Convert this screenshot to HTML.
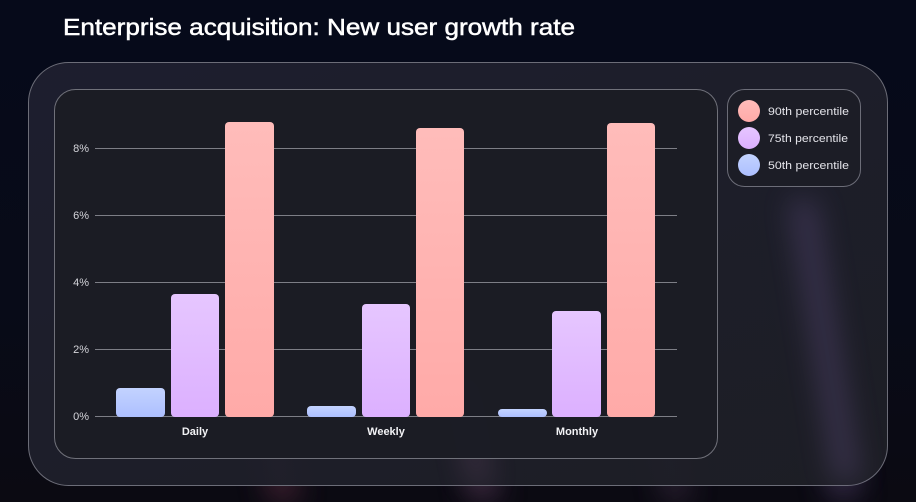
<!DOCTYPE html>
<html><head><meta charset="utf-8"><style>
html,body{margin:0;padding:0;width:916px;height:502px;overflow:hidden;background:#070b18;}
svg{display:block}
</style></head><body>
<svg width="916" height="502" viewBox="0 0 916 502" xmlns="http://www.w3.org/2000/svg">
<defs>
<linearGradient id="bg" x1="0" y1="0" x2="0" y2="1">
<stop offset="0" stop-color="#060a1a"/><stop offset="0.6" stop-color="#080b18"/><stop offset="1" stop-color="#0b0a12"/>
</linearGradient>
<linearGradient id="outer" x1="0" y1="0" x2="1" y2="1">
<stop offset="0" stop-color="#1f2030"/><stop offset="1" stop-color="#1e1f26"/>
</linearGradient>
<linearGradient id="gr" x1="0" y1="0" x2="0" y2="1"><stop offset="0" stop-color="#ffbcba"/><stop offset="1" stop-color="#ffaaa8"/></linearGradient>
<linearGradient id="gp" x1="0" y1="0" x2="0" y2="1"><stop offset="0" stop-color="#e6c6ff"/><stop offset="1" stop-color="#dcb0ff"/></linearGradient>
<linearGradient id="gb" x1="0" y1="0" x2="0" y2="1"><stop offset="0" stop-color="#c3d3ff"/><stop offset="1" stop-color="#adbfff"/></linearGradient>
<filter id="blur" x="-50%" y="-50%" width="200%" height="200%"><feGaussianBlur stdDeviation="14"/></filter>
</defs>
<rect width="916" height="502" fill="url(#bg)"/>
<g filter="url(#blur)" opacity="0.55">
<polygon points="250,380 275,380 300,502 270,502" fill="#6b3048"/>
<polygon points="440,300 470,300 500,502 470,502" fill="#5a3a5a"/>
<polygon points="780,200 810,200 860,502 830,502" fill="#4a3a5e"/>
<polygon points="640,330 660,330 690,502 665,502" fill="#4a3550"/>
</g>
<rect x="28.5" y="62.5" width="859" height="423" rx="40" fill="url(#outer)" fill-opacity="0.93" stroke="#6c6d78" stroke-width="1"/>
<g filter="url(#blur)" opacity="0.35">
<polygon points="790,200 815,200 860,480 835,480" fill="#6a5590"/>
<polygon points="450,380 470,380 490,485 470,485" fill="#6a4a6a"/>
</g>
<rect x="54.5" y="89.5" width="663" height="369" rx="21" fill="#1b1c24" fill-opacity="0.96" stroke="#70717a" stroke-width="1"/>
<rect x="727.5" y="89.5" width="133" height="97" rx="17" fill="#1c1d26" stroke="#6c6d78" stroke-width="1"/>
<text x="63" y="35" font-family="Liberation Sans, sans-serif" font-size="23.5" fill="#ffffff" stroke="#ffffff" stroke-width="0.5" textLength="512" lengthAdjust="spacingAndGlyphs">Enterprise acquisition: New user growth rate</text>
<g stroke="#7d7e86" stroke-width="1">
<line x1="95" y1="148.5" x2="677" y2="148.5"/>
<line x1="95" y1="215.5" x2="677" y2="215.5"/>
<line x1="95" y1="282.5" x2="677" y2="282.5"/>
<line x1="95" y1="349.5" x2="677" y2="349.5"/>
<line x1="95" y1="416.5" x2="677" y2="416.5"/>
</g>
<g font-family="Liberation Sans, sans-serif" font-size="11" fill="#d4d4da" text-anchor="end">
<text x="89" y="152">8%</text>
<text x="89" y="219">6%</text>
<text x="89" y="286">4%</text>
<text x="89" y="353">2%</text>
<text x="89" y="420">0%</text>
</g>
<g>
<rect x="116" y="388" width="49" height="29" rx="4" fill="url(#gb)"/>
<rect x="171" y="294" width="48" height="123" rx="4" fill="url(#gp)"/>
<rect x="225" y="122" width="49" height="295" rx="4" fill="url(#gr)"/>
<rect x="307" y="406" width="49" height="11" rx="4" fill="url(#gb)"/>
<rect x="362" y="304" width="48" height="113" rx="4" fill="url(#gp)"/>
<rect x="416" y="128" width="48" height="289" rx="4" fill="url(#gr)"/>
<rect x="498" y="409" width="49" height="8" rx="4" fill="url(#gb)"/>
<rect x="552" y="311" width="49" height="106" rx="4" fill="url(#gp)"/>
<rect x="607" y="123" width="48" height="294" rx="4" fill="url(#gr)"/>
</g>
<g font-family="Liberation Sans, sans-serif" font-size="11" font-weight="bold" fill="#f2f2f5" text-anchor="middle">
<text x="195" y="435">Daily</text>
<text x="386" y="435">Weekly</text>
<text x="577" y="435">Monthly</text>
</g>
<circle cx="749" cy="111" r="11" fill="url(#gr)"/>
<circle cx="749" cy="138" r="11" fill="url(#gp)"/>
<circle cx="749" cy="165" r="11" fill="url(#gb)"/>
<g font-family="Liberation Sans, sans-serif" font-size="11" fill="#e4e4ea">
<text x="768" y="115" textLength="81" lengthAdjust="spacingAndGlyphs">90th percentile</text>
<text x="768" y="142" textLength="80" lengthAdjust="spacingAndGlyphs">75th percentile</text>
<text x="768" y="169" textLength="81" lengthAdjust="spacingAndGlyphs">50th percentile</text>
</g>
</svg>
</body></html>
